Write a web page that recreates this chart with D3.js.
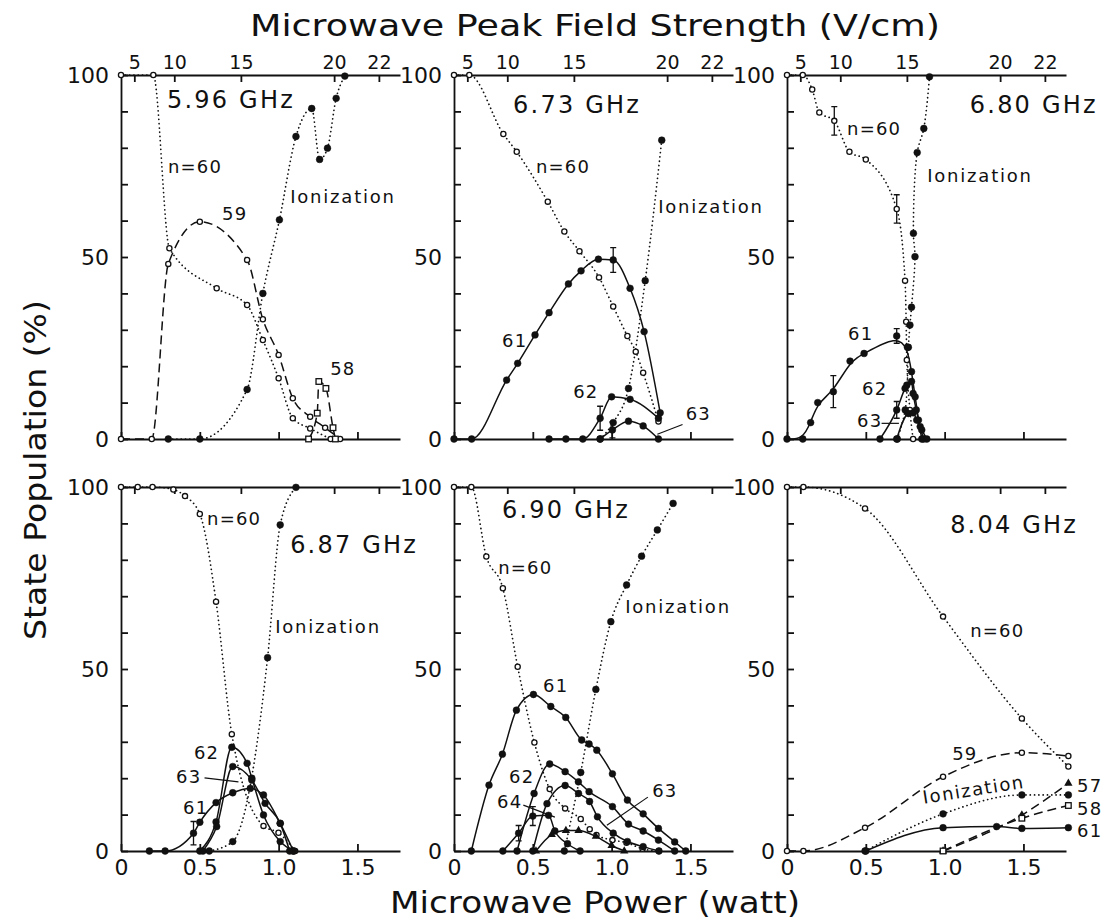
<!DOCTYPE html>
<html>
<head>
<meta charset="utf-8">
<script src="https://cdn.jsdelivr.net/npm/d3@7"></script>
<style>
  body { margin: 0; background: #fff; }
  svg { display: block; }
  text { font-family: "DejaVu Sans", sans-serif; fill: #111; }
  .axis path, .axis line { stroke: #111; stroke-width: 1.8; }
</style>
</head>
<body>
<svg id="chart" width="1104" height="924"></svg>
<script>
;(function() {
  'use strict';

  // Tick values.
  var powerTicks = [0, 0.5, 1.0, 1.5];
  var fieldTicks = [5, 10, 15, 20, 22];
  var popTicks = d3.range(0, 101, 10);
  // Peak field (V/cm) = k * sqrt(power in watt).
  var fieldPerRootWatt = 17.2;
  var maxPower = 1.77;

  // Each series is [power (W), population (%)].
  // 5.96 GHz
  var f596_n60 = [[0,100],[0.205,100],[0.307,52.4],[0.607,41.4],[0.80,36.8],[0.90,27.2],[1.00,16.7],[1.09,5.7],[1.20,2.9],[1.33,0]];
  var f596_n59 = [[0,0],[0.195,0],[0.30,48.1],[0.50,59.7],[0.80,49.2],[0.90,32.9],[1.00,23.1],[1.09,11.2],[1.20,6.1],[1.295,3.1],[1.39,0]];
  var f596_ion = [[0.30,0],[0.50,0],[0.80,13.6],[0.90,40.0],[1.005,60.2],[1.11,83.1],[1.21,90.8],[1.26,76.8],[1.31,79.9],[1.365,93.6],[1.42,99.7]];
  var f596_n58 = [[1.19,0],[1.245,7.1],[1.255,15.8],[1.30,13.9],[1.345,3.1],[1.36,0]];

  // 6.73 GHz
  var f673_n60 = [[0,100],[0.097,100],[0.313,83.8],[0.398,78.9],[0.595,65.2],[0.70,57.0],[0.796,51.6],[0.92,44.4],[1.01,36.4],[1.10,28.3],[1.153,24.0],[1.20,18.2],[1.297,4.8]];
  var f673_n61 = [[0,0],[0.112,0],[0.334,16.2],[0.404,20.8],[0.514,28.6],[0.603,34.7],[0.726,42.6],[0.806,46.2],[0.916,49.4],[1.01,49.2],[1.117,41.4],[1.206,29.5],[1.308,7.2]];
  var f673_ion = [[0.927,0],[1.01,4.5],[1.107,13.9],[1.213,43.5],[1.318,82.1]];
  var f673_n62 = [[0.603,0],[0.71,0],[0.817,0],[0.927,5.7],[1.0,11.6],[1.117,10.9],[1.297,5.7]];
  var f673_n63 = [[0.927,0],[1.005,2.5],[1.107,4.9],[1.20,3.6],[1.297,0]];

  // 6.80 GHz
  var f680_n60 = [[0,100],[0.10,100],[0.16,96],[0.205,89.7],[0.30,87.4],[0.396,78.9],[0.50,76.8],[0.696,63.2],[0.749,43.5],[0.756,32.2],[0.76,21.7],[0.78,8],[0.80,0]];
  var f680_ion = [[0.70,0],[0.75,8],[0.77,25.2],[0.78,31.3],[0.79,36.2],[0.812,50.1],[0.802,56.5],[0.826,78.7],[0.868,85.3],[0.904,99.5]];
  var f680_n61 = [[0,0],[0.10,0],[0.15,4.5],[0.195,10.0],[0.294,13.0],[0.40,21.4],[0.489,23.5],[0.696,28.3],[0.764,25.2],[0.79,18.5],[0.813,11.6],[0.834,5.2],[0.855,0]];
  var f680_n62 = [[0.59,0],[0.696,8.0],[0.749,13.9],[0.76,14.8],[0.79,15.8],[0.80,12.5],[0.82,8],[0.845,3.4],[0.866,0]];
  var f680_n63 = [[0.696,0],[0.77,7],[0.80,7.2],[0.823,5.2],[0.855,2.5],[0.887,0]];

  // 6.87 GHz
  var f687_n60 = [[0,100],[0.106,100],[0.20,100],[0.332,99.3],[0.406,97.5],[0.50,92.6],[0.603,68.5],[0.703,32.1],[0.904,6.9],[0.999,5.0],[1.105,0]];
  var f687_ion = [[0.56,0],[0.709,2.6],[0.93,53.1],[1.01,89.6],[1.11,99.9]];
  var f687_n62 = [[0.50,0],[0.603,8],[0.703,28.5],[0.80,24.1],[0.83,20],[0.904,9.9],[1.01,2.6],[1.094,0]];
  var f687_n63 = [[0.52,0],[0.607,6.7],[0.709,23.2],[0.83,19.5],[0.914,13.1],[1.01,7.6],[1.07,0]];
  var f687_n61 = [[0.18,0],[0.28,0],[0.46,4.9],[0.50,7.9],[0.603,13.3],[0.709,16.0],[0.82,17.2],[0.904,15.4],[1.01,7.6],[1.094,0]];

  // 6.90 GHz
  var f690_n60 = [[0,100],[0.11,100],[0.205,80.9],[0.31,72.2],[0.404,50.6],[0.51,29.8],[0.607,17.0],[0.705,11.7],[0.804,8.8],[0.861,6.0],[0.904,4.4],[1.005,3.0],[1.094,2.3],[1.196,0.6],[1.30,0]];
  var f690_ion = [[0.70,0],[0.804,21.6],[0.90,44.4],[0.995,63.0],[1.095,73.1],[1.19,81.0],[1.29,88.2],[1.39,95.5]];
  var f690_n61 = [[0.11,0],[0.222,18.1],[0.307,26.6],[0.396,38.7],[0.504,43.0],[0.614,39.7],[0.709,36.7],[0.81,30.5],[0.857,29.4],[0.906,27.7],[1.005,21.2],[1.10,14.0],[1.20,10.2],[1.297,6.2],[1.40,2.5],[1.47,0]];
  var f690_n62 = [[0.40,0],[0.508,15.8],[0.607,23.9],[0.705,21.8],[0.789,19.0],[0.857,16.3],[1.005,12.2],[1.107,7.4],[1.20,5.5],[1.297,3.0],[1.40,0]];
  var f690_n63 = [[0.50,0],[0.59,13],[0.705,18.0],[0.79,15.8],[0.86,13.6],[0.91,9.4],[1.01,4.9],[1.10,2.6],[1.20,1.2],[1.30,0]];
  var f690_n64 = [[0.31,0],[0.41,4.9],[0.50,9.6],[0.60,9.8],[0.64,5.5],[0.72,2.0],[0.80,0]];
  var f690_n65 = [[0.52,0],[0.62,4.5],[0.71,5.6],[0.79,5.6],[0.90,4.0],[1.00,1.5],[1.08,0]];

  // 8.04 GHz
  var f804_n60 = [[0,100],[0.104,100],[0.495,94.1],[0.99,64.4],[1.49,36.4],[1.785,23.2]];
  var f804_n59 = [[0,0],[0.104,0],[0.495,6.4],[0.99,20.4],[1.49,27.0],[1.785,26.1]];
  var f804_ion = [[0.495,0],[0.99,10.2],[1.49,15.4],[1.785,15.4]];
  var f804_n61 = [[0.50,0],[0.99,6.4],[1.33,6.7],[1.49,6.2],[1.785,6.4]];
  var f804_n57 = [[0.99,0],[1.49,9.9],[1.785,18.6]];
  var f804_n58 = [[0.99,0],[1.49,9.0],[1.785,12.5]];

  // Error bars: [power, population, half height].
  var f673_err = [[1.01,49.2,3.4],[0.927,5.7,3.3],[1.005,2.5,2.2]];
  var f680_err = [[0.30,87.4,3.9],[0.696,63.2,3.9],[0.294,13.0,4.4],[0.696,28.3,2.0],[0.696,8.0,2.3]];
  var f687_err = [[0.46,4.9,3.2]];
  var f690_err = [[0.41,4.9,2.1],[0.50,9.6,2.6]];

  var panels = [
    {col: 0, row: 0, freq: ['5.96 GHz', 0.292, 90.9],
     series: [
       {data: f596_n60, line: 'dot', mark: 'open'},
       {data: f596_n59, line: 'dash', mark: 'open'},
       {data: f596_ion, line: 'dot', mark: 'fill'},
       {data: f596_n58, line: 'dash', mark: 'square'}],
     errs: [],
     notes: [['n=60', 0.298, 73.1], ['59', 0.641, 60.2], ['Ionization', 1.073, 64.8], ['58', 1.327, 17.6]],
     pointers: []},
    {col: 1, row: 0, freq: ['6.73 GHz', 0.375, 89.6],
     series: [
       {data: f673_n60, line: 'dot', mark: 'open'},
       {data: f673_ion, line: 'dot', mark: 'fill'},
       {data: f673_n61, line: 'solid', mark: 'fill'},
       {data: f673_n62, line: 'solid', mark: 'fill'},
       {data: f673_n63, line: 'solid', mark: 'fill'}],
     errs: f673_err,
     notes: [['n=60', 0.52, 73.1], ['61', 0.305, 25.3], ['62', 0.756, 11.3], ['Ionization', 1.295, 62.1], ['63', 1.47, 5.2]],
     pointers: [[[1.45, 4.0], [1.29, 1.3]]]},
    {col: 2, row: 0, freq: ['6.80 GHz', 1.16, 89.6],
     series: [
       {data: f680_n60, line: 'dot', mark: 'open'},
       {data: f680_ion, line: 'dot', mark: 'fill', curve: 'catmull'},
       {data: f680_n61, line: 'solid', mark: 'fill', curve: 'basis'},
       {data: f680_n62, line: 'solid', mark: 'fill'},
       {data: f680_n63, line: 'solid', mark: 'fill'}],
     errs: f680_err,
     notes: [['n=60', 0.381, 83.5], ['Ionization', 0.889, 70.6], ['61', 0.387, 27.2], ['62', 0.476, 12.1], ['63', 0.444, 3.3]],
     pointers: [[[0.60, 4.3], [0.71, 4.3]]]},
    {col: 0, row: 1, freq: ['6.87 GHz', 1.073, 81.9],
     series: [
       {data: f687_n60, line: 'dot', mark: 'open'},
       {data: f687_ion, line: 'dot', mark: 'fill'},
       {data: f687_n61, line: 'solid', mark: 'fill'},
       {data: f687_n62, line: 'solid', mark: 'fill'},
       {data: f687_n63, line: 'solid', mark: 'fill'}],
     errs: f687_err,
     notes: [['n=60', 0.546, 89.6], ['Ionization', 0.978, 59.9], ['62', 0.463, 25.3], ['63', 0.349, 18.7], ['61', 0.394, 10.2]],
     pointers: [[[0.53, 20.1], [0.745, 19.0]]]},
    {col: 1, row: 1, freq: ['6.90 GHz', 0.305, 91.5],
     series: [
       {data: f690_n60, line: 'dot', mark: 'open'},
       {data: f690_ion, line: 'dot', mark: 'fill'},
       {data: f690_n61, line: 'solid', mark: 'fill'},
       {data: f690_n62, line: 'solid', mark: 'fill'},
       {data: f690_n63, line: 'solid', mark: 'fill'},
       {data: f690_n64, line: 'solid', mark: 'fill'},
       {data: f690_n65, line: 'solid', mark: 'tri'}],
     errs: f690_err,
     notes: [['n=60', 0.28, 76.1], ['Ionization', 1.086, 65.4], ['61', 0.565, 43.7], ['62', 0.349, 18.7], ['64', 0.273, 11.8], ['63', 1.257, 14.8]],
     pointers: [[[0.44, 12.6], [0.64, 9.3]], [[1.23, 14.8], [0.97, 7.1]]]},
    {col: 2, row: 1, freq: ['8.04 GHz', 1.035, 87.4],
     series: [
       {data: f804_n60, line: 'dot', mark: 'open'},
       {data: f804_n59, line: 'dash', mark: 'open'},
       {data: f804_ion, line: 'dot', mark: 'fill'},
       {data: f804_n61, line: 'solid', mark: 'fill'},
       {data: f804_n57, line: 'dash', mark: 'tri'},
       {data: f804_n58, line: 'dash', mark: 'square'}],
     errs: [],
     notes: [['n=60', 1.162, 58.8], ['59', 1.048, 25.0], ['57', 1.84, 16.2], ['58', 1.84, 9.9], ['61', 1.84, 3.8]],
     tilted: ['Ionization', 1.19, 15.2, -9],
     pointers: []}
  ];

  var colX = [121, 454, 787], panelW = 279;
  var rowY = [75, 487], panelH = 364;

  var svg = d3.select('#chart');

  function translation(x, y) {
    return 'translate(' + x + ',' + y + ')';
  }

  var dashes = {solid: null, dot: '0.1,4.2', dash: '9,5'};
  var curves = {
    monotone: d3.curveMonotoneX,
    catmull: d3.curveCatmullRom.alpha(0.5),
    basis: d3.curveBasis
  };

  panels.forEach(function(p) {
    var x = d3.scaleLinear().domain([0, maxPower]).range([colX[p.col], colX[p.col] + panelW]);
    var y = d3.scaleLinear().domain([0, 100]).range([rowY[p.row] + panelH, rowY[p.row]]);
    var g = svg.append('g');

    // Axes: ticks point inward on all three sides.
    var xAxis = d3.axisBottom(x).tickValues(powerTicks).tickSizeInner(-7).tickSizeOuter(0).tickPadding(8)
      .tickFormat(p.row === 1 ? function(d) { return d === 0 ? '0' : d.toFixed(1); } : function() { return ''; });
    g.append('g').attr('class', 'axis').attr('transform', translation(0, y(0))).call(xAxis);

    var topAxis = d3.axisTop(x)
      .tickValues(fieldTicks.map(function(e) { return Math.pow(e / fieldPerRootWatt, 2); }))
      .tickSizeInner(-7).tickSizeOuter(0).tickPadding(6)
      .tickFormat(p.row === 0 ? function(d, i) { return fieldTicks[i]; } : function() { return ''; });
    var topG = g.append('g').attr('class', 'axis').attr('transform', translation(0, y(100))).call(topAxis);

    var yAxis = d3.axisLeft(y).tickValues(popTicks).tickSizeInner(-7).tickSizeOuter(0).tickPadding(12)
      .tickFormat(function(d) { return d % 50 === 0 ? d : ''; });
    g.append('g').attr('class', 'axis').attr('transform', translation(colX[p.col], 0)).call(yAxis);

    g.selectAll('.axis text').attr('fill', '#111').attr('font-family', '"DejaVu Sans", sans-serif');
    g.selectAll('.axis').attr('font-size', 22);
    topG.attr('font-size', 19);

    // Lines.
    p.series.forEach(function(s) {
      var line = d3.line()
        .x(function(d) { return x(d[0]); })
        .y(function(d) { return y(d[1]); })
        .curve(curves[s.curve || 'monotone']);
      g.append('path')
        .attr('d', line(s.data))
        .attr('fill', 'none')
        .attr('stroke', '#111')
        .attr('stroke-width', s.line === 'dot' ? 1.7 : 1.5)
        .attr('stroke-linecap', s.line === 'dot' ? 'round' : 'butt')
        .attr('stroke-dasharray', dashes[s.line]);
    });

    // Error bars.
    p.errs.forEach(function(e) {
      var cx = x(e[0]), y1 = y(e[1] - e[2]), y2 = y(e[1] + e[2]);
      g.append('path')
        .attr('d', 'M' + cx + ',' + y1 + 'V' + y2 + 'M' + (cx - 3) + ',' + y1 + 'h6M' + (cx - 3) + ',' + y2 + 'h6')
        .attr('stroke', '#111').attr('stroke-width', 1.3).attr('fill', 'none');
    });

    // Markers.
    p.series.forEach(function(s) {
      var pts = g.selectAll(null).data(s.data).enter();
      if (s.mark === 'open' || s.mark === 'fill') {
        pts.append('circle')
          .attr('cx', function(d) { return x(d[0]); })
          .attr('cy', function(d) { return y(d[1]); })
          .attr('r', s.mark === 'open' ? 2.6 : 3.4)
          .attr('fill', s.mark === 'open' ? '#fff' : '#111')
          .attr('stroke', '#111')
          .attr('stroke-width', s.mark === 'open' ? 1.3 : 0.5);
      } else if (s.mark === 'square') {
        pts.append('rect')
          .attr('x', function(d) { return x(d[0]) - 2.8; })
          .attr('y', function(d) { return y(d[1]) - 2.8; })
          .attr('width', 5.6).attr('height', 5.6)
          .attr('fill', '#fff').attr('stroke', '#111').attr('stroke-width', 1.3);
      } else if (s.mark === 'tri') {
        pts.append('path')
          .attr('d', d3.symbol(d3.symbolTriangle, 30))
          .attr('transform', function(d) { return translation(x(d[0]), y(d[1])); })
          .attr('fill', '#111');
      }
    });

    // Pointer lines from labels.
    p.pointers.forEach(function(ptr) {
      g.append('line')
        .attr('x1', x(ptr[0][0])).attr('y1', y(ptr[0][1]))
        .attr('x2', x(ptr[1][0])).attr('y2', y(ptr[1][1]))
        .attr('stroke', '#111').attr('stroke-width', 1.2);
    });

    // Frequency label.
    g.append('text')
      .attr('x', x(p.freq[1])).attr('y', y(p.freq[2]))
      .attr('font-size', 24).attr('letter-spacing', 2.2)
      .text(p.freq[0]);

    // Curve labels.
    p.notes.forEach(function(n) {
      g.append('text')
        .attr('x', x(n[1])).attr('y', y(n[2]))
        .attr('font-size', 18).attr('letter-spacing', n[0] === 'Ionization' ? 1.8 : 1.2)
        .text(n[0]);
    });

    if (p.tilted) {
      var tx = x(p.tilted[1]), ty = y(p.tilted[2]);
      g.append('text')
        .attr('x', tx).attr('y', ty)
        .attr('text-anchor', 'middle')
        .attr('font-size', 18).attr('letter-spacing', 1.5)
        .attr('transform', 'rotate(' + p.tilted[3] + ',' + tx + ',' + ty + ')')
        .text(p.tilted[0]);
    }
  });

  // Figure titles.
  svg.append('text')
    .attr('x', 595).attr('y', 36)
    .attr('text-anchor', 'middle').attr('font-size', 30)
    .attr('textLength', 690).attr('lengthAdjust', 'spacingAndGlyphs')
    .text('Microwave Peak Field Strength (V/cm)');

  svg.append('text')
    .attr('x', 595).attr('y', 913)
    .attr('text-anchor', 'middle').attr('font-size', 30)
    .attr('textLength', 410).attr('lengthAdjust', 'spacingAndGlyphs')
    .text('Microwave Power (watt)');

  svg.append('text')
    .attr('transform', 'translate(46,470) rotate(-90)')
    .attr('text-anchor', 'middle').attr('font-size', 30)
    .attr('textLength', 340).attr('lengthAdjust', 'spacingAndGlyphs')
    .text('State Population (%)');
}());
</script>
</body>
</html>
